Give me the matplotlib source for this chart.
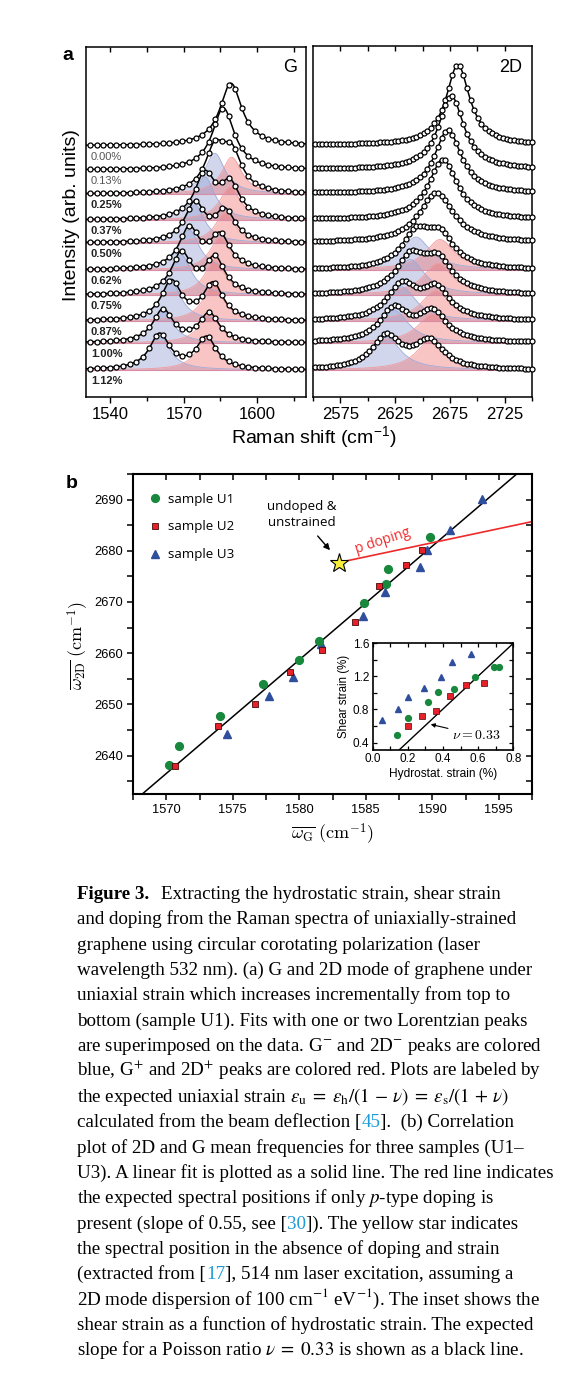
import numpy as np
import matplotlib
matplotlib.use('Agg')
import matplotlib.pyplot as plt
from matplotlib.ticker import FixedLocator, MultipleLocator, FormatStrFormatter

plt.rcParams['font.family'] = ['Liberation Sans', 'DejaVu Sans']

W, H = 585, 1376

# ---------------- panel a data (Lorentzian fit parameters) -------------
strain_labels = ['0.00%', '0.13%', '0.25%', '0.37%', '0.50%', '0.62%', '0.75%', '0.87%', '1.00%', '1.12%']
label_bold = [False, False, True, True, True, True, True, True, True, True]
spectrum_offsets = [10.05, 9.08, 8.12, 7.08, 6.16, 5.08, 4.08, 3.04, 2.16, 1.08]

g_lo_pos = [1589.3, 1586.2, 1582.7, 1578.6, 1574.5, 1572.2, 1569.0, 1564.9, 1561.5, 1560.1]
g_lo_amp = [2.50, 2.48, 1.63, 1.73, 1.52, 1.60, 1.60, 1.55, 1.30, 1.40]
g_lo_hw = [5.5, 5.5, 5.0, 5.0, 5.0, 5.0, 5.0, 5.0, 5.0, 5.0]
g_hi_pos = [1589.3, 1586.2, 1589.6, 1588.9, 1586.9, 1584.8, 1582.7, 1582.0, 1580.4, 1579.3]
g_hi_amp = [0.0, 0.0, 1.47, 1.32, 1.20, 1.30, 1.40, 1.45, 1.15, 1.27]
g_hi_hw = [5.0, 5.0, 5.0, 5.0, 5.0, 5.0, 5.0, 5.0, 5.0, 5.0]

d_lo_pos = [2682.3, 2676.2, 2673.2, 2668.6, 2662.6, 2644.0, 2639.0, 2631.0, 2624.0, 2617.0]
d_lo_amp = [3.20, 2.93, 2.53, 2.40, 2.00, 1.30, 1.40, 1.35, 1.30, 1.30]
d_lo_hw = [13.0, 14.0, 15.0, 16.0, 19.0, 16.0, 16.0, 16.0, 16.0, 16.0]
d_hi_pos = [2682.3, 2676.2, 2673.2, 2668.6, 2662.6, 2666.0, 2664.0, 2662.0, 2659.0, 2656.0]
d_hi_amp = [0.0, 0.0, 0.0, 0.0, 0.0, 1.20, 1.25, 1.20, 1.15, 1.10]
d_hi_hw = [16.0, 16.0, 16.0, 16.0, 16.0, 16.0, 16.0, 16.0, 16.0, 16.0]

g_xlim = (1530, 1620)
d_xlim = (2550, 2750)
g_major = [1540, 1570, 1600]
g_minor = [1555, 1585, 1615]
g_top = [1540, 1555, 1570, 1585, 1600, 1615]
d_major = [2575, 2625, 2675, 2725]
d_minor = [2550, 2600, 2650, 2700, 2750]
d_top = [2575, 2600, 2625, 2650, 2675, 2700, 2725]

# ---------------- panel b data ----------------
u1_g = [1570.2, 1570.95, 1574.06, 1577.3, 1580.0, 1581.5, 1584.86, 1586.5, 1586.66, 1589.85]
u1_2d = [2638.1, 2641.8, 2647.7, 2654.0, 2658.7, 2662.4, 2669.8, 2673.6, 2676.4, 2682.7]
u2_g = [1570.65, 1573.9, 1576.7, 1579.3, 1581.7, 1584.16, 1586.0, 1588.0, 1589.25]
u2_2d = [2637.9, 2645.8, 2650.0, 2656.4, 2660.6, 2666.1, 2673.1, 2677.2, 2680.1]
u3_g = [1574.6, 1577.7, 1579.5, 1581.65, 1584.83, 1586.47, 1589.05, 1589.6, 1591.3, 1593.76]
u3_2d = [2644.3, 2651.6, 2655.4, 2661.8, 2667.3, 2671.9, 2676.9, 2680.1, 2684.1, 2690.1]
fit_x0, fit_y0, fit_slope = 1580.0, 2658.7, 2.22
star_g, star_2d = 1582.96, 2677.7
pdop_slope = 0.55

# inset data
in_u1_h = [0.14, 0.199, 0.317, 0.37, 0.465, 0.58, 0.688, 0.716]
in_u1_s = [0.493, 0.697, 0.89, 1.017, 1.045, 1.197, 1.31, 1.31]
in_u2_h = [0.199, 0.282, 0.36, 0.44, 0.529, 0.633]
in_u2_s = [0.60, 0.726, 0.786, 0.968, 1.097, 1.117]
in_u3_h = [0.051, 0.142, 0.20, 0.29, 0.387, 0.45, 0.558]
in_u3_s = [0.674, 0.807, 0.946, 1.057, 1.19, 1.378, 1.475]
poisson = 0.33
poisson_icpt = 0.012

fig = plt.figure(figsize=(W / 100, H / 100), dpi=100)
fig.patch.set_facecolor('white')


def rect(l, t, r, b):
    return [l / W, 1 - b / H, (r - l) / W, (b - t) / H]


def lor(x, x0, a, g):
    return a / (1.0 + ((x - x0) / g) ** 2)


blue_fill = (0.60, 0.65, 0.84)
red_fill = (0.94, 0.45, 0.45)


def draw_spectra(ax, xlim, lo_pos, lo_amp, lo_hw, hi_pos, hi_amp, hi_hw, step):
    xf = np.linspace(xlim[0], xlim[1], 900)
    xs = np.arange(xlim[0] + step * 0.6, xlim[1], step)
    for i, off in enumerate(spectrum_offsets):
        lo = lor(xf, lo_pos[i], lo_amp[i], lo_hw[i])
        hi = lor(xf, hi_pos[i], hi_amp[i], hi_hw[i])
        if hi_amp[i] > 0:
            ax.fill_between(xf, off, off + lo, color=blue_fill, alpha=0.45, lw=0, zorder=1)
            ax.plot(xf, off + lo, color=(0.62, 0.67, 0.85), lw=0.6, zorder=1.5)
            ax.fill_between(xf, off, off + hi, color=red_fill, alpha=0.42, lw=0, zorder=1)
            ax.plot(xf, off + hi, color=(0.95, 0.6, 0.6), lw=0.6, zorder=1.5)
            ax.plot(xf, np.full_like(xf, off), color=(0.85, 0.55, 0.65), lw=0.8, zorder=1.6)
        ax.plot(xf, off + lo + hi, color='k', lw=1.1, zorder=3)
        ys = off + lor(xs, lo_pos[i], lo_amp[i], lo_hw[i]) + lor(xs, hi_pos[i], hi_amp[i], hi_hw[i])
        ax.plot(xs, ys, 'o', ms=3.6, mfc='white', mec='k', mew=0.9, zorder=4, clip_on=False)
    ax.set_xlim(*xlim)
    ax.set_ylim(0, 14)
    ax.set_yticks([])
    for s in ax.spines.values():
        s.set_linewidth(1.1)


def top_ticks(ax, pos):
    t = ax.twiny()
    t.set_xlim(ax.get_xlim())
    t.xaxis.set_major_locator(FixedLocator(pos))
    t.tick_params(axis='x', direction='in', length=3.5, width=1, labeltop=False)
    for s in t.spines.values():
        s.set_visible(False)
    return t


# ----- panel a, G -----
axG = fig.add_axes(rect(86, 47, 306, 397))
draw_spectra(axG, g_xlim, g_lo_pos, g_lo_amp, g_lo_hw, g_hi_pos, g_hi_amp, g_hi_hw, 2.7)
axG.xaxis.set_major_locator(FixedLocator(g_major))
axG.xaxis.set_minor_locator(FixedLocator(g_minor))
axG.tick_params(axis='x', which='major', direction='out', length=4, width=1, labelsize=12, pad=3.5)
axG.tick_params(axis='x', which='minor', direction='out', length=3, width=1)
top_ticks(axG, g_top)
for i, lab in enumerate(strain_labels):
    axG.text(1532, spectrum_offsets[i] - 0.45, lab, fontsize=8,
             fontweight='bold' if label_bold[i] else 'normal',
             color='#222222' if label_bold[i] else '#555555', va='center', ha='left', zorder=5)

# ----- panel a, 2D -----
axD = fig.add_axes(rect(313, 46, 532, 397))
draw_spectra(axD, d_xlim, d_lo_pos, d_lo_amp, d_lo_hw, d_hi_pos, d_hi_amp, d_hi_hw, 3.3)
axD.xaxis.set_major_locator(FixedLocator(d_major))
axD.xaxis.set_minor_locator(FixedLocator(d_minor))
axD.tick_params(axis='x', which='major', direction='out', length=4, width=1, labelsize=12, pad=3.5)
axD.tick_params(axis='x', which='minor', direction='out', length=3, width=1)
top_ticks(axD, d_top)

fig.text(68 / W, 1 - 55 / H, 'a', fontsize=14, fontweight='bold', ha='center', va='center')
fig.text(290 / W, 1 - 68 / H, 'G', fontsize=13, ha='center', va='center')
fig.text(511 / W, 1 - 68 / H, '2D', fontsize=13, ha='center', va='center')
fig.text(72 / W, 1 - 215 / H, 'Intensity (arb. units)', fontsize=14, rotation=90, ha='center', va='center')
fig.text(314 / W, 1 - 438 / H, r'Raman shift (cm$^{\mathregular{-1}}$)', fontsize=14, ha='center', va='center')

# ----- panel b -----
axb = fig.add_axes(rect(133, 474, 532, 794))
axb.set_xlim(1567.5, 1597.5)
axb.set_ylim(2632.5, 2695)
xl = np.array(axb.get_xlim())
axb.plot(xl, fit_y0 + fit_slope * (xl - fit_x0), color='k', lw=1.1, zorder=2)
xr = np.array([star_g, xl[1]])
axb.plot(xr, star_2d + pdop_slope * (xr - star_g), color='#ee2a2a', lw=1.2, zorder=2)
axb.plot(u1_g, u1_2d, 'o', ls='none', ms=5.6, color='#17883c', mec='#17883c', label='sample U1', zorder=4)
axb.plot(u2_g, u2_2d, 's', ls='none', ms=4.7, color='#e62129', mec='#4a0808', mew=0.6, label='sample U2', zorder=4)
axb.plot(u3_g, u3_2d, '^', ls='none', ms=6.0, color='#2f4e9c', mec='#2f4e9c', label='sample U3', zorder=3)
axb.plot([star_g], [star_2d], marker='*', ms=14, mfc='#f6ee3c', mec='k', mew=0.8, ls='none', zorder=6)
axb.annotate('', xy=(1582.45, 2679.7), xytext=(1581.25, 2683.3),
             arrowprops=dict(arrowstyle='-|>', color='k', lw=1.0, mutation_scale=9))
axb.text(1580.17, 2687.1, 'undoped &\nunstrained', fontsize=9.5, family=['Open Sans', 'DejaVu Sans'],
         ha='center', va='center', linespacing=1.3)
axb.text(1586.3, 2681.9, 'p doping', fontsize=10, color='#ee2a2a', family=['Open Sans', 'DejaVu Sans'],
         rotation=18, ha='center', va='center', rotation_mode='anchor')
axb.xaxis.set_major_locator(MultipleLocator(5))
axb.xaxis.set_minor_locator(MultipleLocator(2.5))
axb.yaxis.set_major_locator(MultipleLocator(10))
axb.yaxis.set_minor_locator(MultipleLocator(5))
axb.tick_params(which='both', direction='out', length=4.5, width=1.1, labelsize=9.3, pad=2.5)
for s in axb.spines.values():
    s.set_linewidth(1.5)
tb = axb.twiny()
tb.set_xlim(axb.get_xlim())
tb.xaxis.set_major_locator(MultipleLocator(2.5))
tb.tick_params(axis='x', direction='in', length=4.5, width=1.1, labeltop=False)
rb = axb.twinx()
rb.set_ylim(axb.get_ylim())
rb.yaxis.set_major_locator(MultipleLocator(5))
rb.tick_params(axis='y', direction='in', length=4.5, width=1.1, labelright=False)
for t in (tb, rb):
    for s in t.spines.values():
        s.set_visible(False)
leg = axb.legend(loc='upper left', bbox_to_anchor=(0.039, 0.942), frameon=False, borderpad=0,
                 borderaxespad=0, handlelength=1.0, handletextpad=0.46, labelspacing=1.12,
                 numpoints=1, prop={'family': ['Open Sans', 'DejaVu Sans'], 'size': 9.6})
axb.set_xlabel(r'$\overline{\omega_{\mathrm{G}}}\ (\mathrm{cm}^{-1})$', fontsize=13,
               math_fontfamily='cm', va='center')
axb.xaxis.set_label_coords(0.5, -(834 - 794) / 320)
axb.set_ylabel(r'$\overline{\omega_{\mathrm{2D}}}\ (\mathrm{cm}^{-1})$', fontsize=13,
               math_fontfamily='cm', va='center')
axb.yaxis.set_label_coords((78 - 133) / 399, (794 - 645) / 320)
fig.text(72 / W, 1 - 484 / H, 'b', fontsize=14, fontweight='bold', ha='center', va='center')

# ----- inset -----
axi = fig.add_axes(rect(372.7, 643.3, 513.3, 750))
axi.set_xlim(0, 0.8)
axi.set_ylim(0.31, 1.6)
xi = np.array(axi.get_xlim())
axi.plot(xi, (1 + poisson) / (1 - poisson) * xi + poisson_icpt, color='k', lw=1.0, zorder=2)
axi.plot(in_u1_h, in_u1_s, 'o', ls='none', ms=4.2, color='#17883c', mec='#17883c', zorder=4)
axi.plot(in_u2_h, in_u2_s, 's', ls='none', ms=3.7, color='#e62129', mec='#4a0808', mew=0.5, zorder=4)
axi.plot(in_u3_h, in_u3_s, '^', ls='none', ms=4.6, color='#2f4e9c', mec='#2f4e9c', zorder=4)
axi.annotate(r'$\nu = 0.33$', xy=(0.33, 0.62), xytext=(0.59, 0.49), fontsize=10, math_fontfamily='cm',
             ha='center', va='center',
             arrowprops=dict(arrowstyle='-|>', color='k', lw=0.8, mutation_scale=6, shrinkA=1, shrinkB=0))
axi.xaxis.set_major_locator(MultipleLocator(0.2))
axi.xaxis.set_minor_locator(MultipleLocator(0.1))
axi.yaxis.set_major_locator(MultipleLocator(0.4))
axi.yaxis.set_minor_locator(MultipleLocator(0.2))
axi.xaxis.set_major_formatter(FormatStrFormatter('%.1f'))
axi.yaxis.set_major_formatter(FormatStrFormatter('%.1f'))
axi.tick_params(which='both', direction='in', top=True, right=True, length=3, width=0.9,
                labelsize=8.5, pad=2.5)
for s in axi.spines.values():
    s.set_linewidth(1.2)
axi.set_xlabel('Hydrostat. strain (%)', fontsize=8.6, labelpad=2)
axi.set_ylabel('Shear strain (%)', fontsize=8.3, labelpad=2)

# ---------------- caption ----------------
BLUE = '#1f9ad6'
cap_lines = [
    [('Figure 3.', 'bold'), ('GAP', ''), ('Extracting the hydrostatic strain, shear strain', '')],
    [('and doping from the Raman spectra of uniaxially-strained', '')],
    [('graphene using circular corotating polarization (laser', '')],
    [('wavelength 532 nm). (a) G and 2D mode of graphene under', '')],
    [('uniaxial strain which increases incrementally from top to', '')],
    [('bottom (sample U1). Fits with one or two Lorentzian peaks', '')],
    [(r'are superimposed on the data. G$^{-}$ and 2D$^{-}$ peaks are colored', '')],
    [(r'blue, G$^{+}$ and 2D$^{+}$ peaks are colored red. Plots are labeled by', '')],
    [(r'the expected uniaxial strain $\varepsilon_{\mathrm{u}}\;=\;\varepsilon_{\mathrm{h}}/(1\,-\,\nu)'
      r'\;=\;\varepsilon_{\mathrm{s}}/(1\,+\,\nu)$', '')],
    [('calculated from the beam deflection [', ''), ('45', 'blue'), ('].  (b) Correlation', '')],
    [('plot of 2D and G mean frequencies for three samples (U1\u2013', '')],
    [('U3). A linear fit is plotted as a solid line. The red line indicates', '')],
    [(r'the expected spectral positions if only $p$-type doping is', '')],
    [('present (slope of 0.55, see [', ''), ('30', 'blue'), (']). The yellow star indicates', '')],
    [('the spectral position in the absence of doping and strain', '')],
    [('(extracted from [', ''), ('17', 'blue'), ('], 514 nm laser excitation, assuming a', '')],
    [(r'2D mode dispersion of 100 cm$^{-1}$ eV$^{-1}$). The inset shows the', '')],
    [('shear strain as a function of hydrostatic strain. The expected', '')],
    [(r'slope for a Poisson ratio $\nu\;=\;0.33$ is shown as a black line.', '')],
]

renderer = fig.canvas.get_renderer()
cap_family = ['Liberation Serif', 'DejaVu Serif']


def mk(x, y, s, fs, style):
    kw = dict(fontsize=fs, family=cap_family, ha='left', va='baseline', math_fontfamily='stix')
    if style == 'bold':
        kw['fontweight'] = 'bold'
    if style == 'blue':
        kw['color'] = BLUE
    return fig.text(x / W, 1 - y / H, s, **kw)


probe = mk(0, 0, cap_lines[11][0][0], 12, '')
w12 = probe.get_window_extent(renderer).width
probe.remove()
cap_fs = 12 * (552 - 77) / w12

x0, base0, pitch = 77, 899, 25.35
for i, segs in enumerate(cap_lines):
    x = x0
    yb = base0 + i * pitch
    for s, st in segs:
        if s == 'GAP':
            x += 12
            continue
        t = mk(x, yb, s, cap_fs, st)
        x = t.get_window_extent(renderer).x1

fig.savefig('out.png', dpi=100, facecolor='white')
